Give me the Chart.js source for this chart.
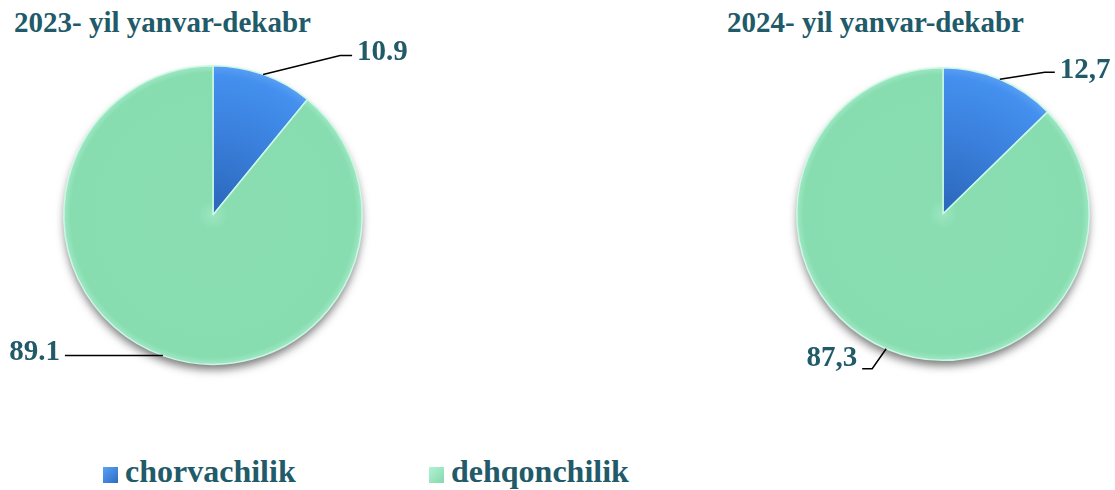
<!DOCTYPE html>
<html>
<head>
<meta charset="utf-8">
<script src="https://cdn.jsdelivr.net/npm/chart.js@4.4.1/dist/chart.umd.min.js"></script>
<style>
    body { margin: 0; background: #fff; width: 1115px; height: 490px; position: relative; overflow: hidden; }
    .title, .legend-item { position: absolute; font-family: 'Liberation Serif', 'Times New Roman', serif; font-weight: bold; color: #215a69; white-space: nowrap; line-height: 1; }
    .title { font-size: 29px; top: 8px; }
    .legend-item { font-size: 32px; top: 455px; }
    .legend-item i { display: inline-block; width: 15px; height: 16px; margin-right: 7px; vertical-align: -1px; }
    canvas { position: absolute; top: 0; }
</style>
</head>
<body>
<div class="title" style="left:14px">2023- yil yanvar-dekabr</div>
<div class="title" style="left:727px">2024- yil yanvar-dekabr</div>

<canvas id="pie2023" width="430" height="430" style="left:0"></canvas>
<canvas id="pie2024" width="415" height="430" style="left:700px"></canvas>

<div class="legend-item" style="left:103px"><i style="background:linear-gradient(135deg,#5aa2f6,#2d6cc2)"></i>chorvachilik</div>
<div class="legend-item" style="left:429px"><i style="background:linear-gradient(135deg,#b2f2d4,#84d9ad)"></i>dehqonchilik</div>

<script>
// Data
const categories = ['chorvachilik', 'dehqonchilik'];
const values2023 = [10.9, 89.1];
const values2024 = [12.7, 87.3];

const textColor = '#215a69';

// slice fill with a bit of depth
function sliceFill(ctx) {
    const chart = ctx.chart;
    const area = chart.chartArea;
    const blue = ctx.dataIndex === 0;
    if (!area) return blue ? '#3d86e4' : '#88ddb0';
    const cx = (area.left + area.right) / 2;
    const cy = (area.top + area.bottom) / 2;
    const r = Math.min(area.right - area.left, area.bottom - area.top) / 2;
    const g = chart.ctx.createRadialGradient(cx, cy, 0, cx, cy, r);
    if (blue) {
        g.addColorStop(0, '#2b66b9');
        g.addColorStop(0.55, '#3a80dc');
        g.addColorStop(0.93, '#4490ee');
        g.addColorStop(1, '#5aa0f5');
    } else {
        g.addColorStop(0, '#9ce6c0');
        g.addColorStop(0.1, '#89ddb1');
        g.addColorStop(0.95, '#88ddb0');
        g.addColorStop(1, '#a2e9c6');
    }
    return g;
}

// soft shadow under the pie
const shadowPlugin = {
    id: 'pieShadow',
    beforeDatasetsDraw(chart) {
        const arc = chart.getDatasetMeta(0).data[0];
        if (!arc) return;
        const { x, y, outerRadius } = arc.getProps(['x', 'y', 'outerRadius'], true);
        const ctx = chart.ctx;
        ctx.save();
        ctx.shadowColor = 'rgba(0,0,0,0.55)';
        ctx.shadowBlur = 10;
        ctx.shadowOffsetY = 6;
        ctx.fillStyle = '#ffffff';
        ctx.beginPath();
        ctx.arc(x, y, outerRadius - 1, 0, Math.PI * 2);
        ctx.fill();
        ctx.restore();
    }
};

// values with leader lines
const leaderPlugin = {
    id: 'leaders',
    afterDatasetsDraw(chart, args, opts) {
        const ctx = chart.ctx;
        const ds = chart.data.datasets[0];
        chart.getDatasetMeta(0).data.forEach((arc, i) => {
            const p = arc.getProps(['x', 'y', 'startAngle', 'endAngle', 'outerRadius'], true);
            const mid = (p.startAngle + p.endAngle) / 2;
            const ax = p.x + Math.cos(mid) * p.outerRadius;
            const ay = p.y + Math.sin(mid) * p.outerRadius;
            const l = opts.lines[i];
            const ex = ax + l.elbow[0], ey = ay + l.elbow[1];
            const tx = ex + l.tail;
            ctx.save();
            ctx.strokeStyle = '#000';
            ctx.lineWidth = 1.5;
            ctx.beginPath();
            ctx.moveTo(ax, ay);
            ctx.lineTo(ex, ey);
            ctx.lineTo(tx, ey);
            ctx.stroke();
            ctx.fillStyle = textColor;
            ctx.font = 'bold 29px "Liberation Serif", serif';
            ctx.textBaseline = 'middle';
            ctx.textAlign = l.tail >= 0 ? 'left' : 'right';
            const txt = ds.data[i].toFixed(1).replace('.', opts.sep);
            ctx.fillText(txt, tx + (l.tail >= 0 ? 5 : -5), ey + l.dyText);
            ctx.restore();
        });
    }
};

function makePie(id, values, padding, sep, lines) {
    return new Chart(document.getElementById(id), {
        type: 'pie',
        data: {
            labels: categories,
            datasets: [{
                data: values,
                backgroundColor: sliceFill,
                borderColor: 'rgba(205,250,232,0.95)',
                borderWidth: 1.5
            }]
        },
        options: {
            responsive: false,
            animation: false,
            layout: { padding: padding },
            plugins: {
                legend: { display: false },
                tooltip: { enabled: false },
                leaders: { sep: sep, lines: lines }
            }
        },
        plugins: [shadowPlugin, leaderPlugin]
    });
}

makePie('pie2023', values2023, { left: 63, right: 67, top: 65, bottom: 65 }, '.', [
    { elbow: [77, -19], tail: 12, dyText: -3 },
    { elbow: [0, 0], tail: -98, dyText: -3 }
]);

makePie('pie2024', values2024, { left: 96, right: 25, top: 67, bottom: 69 }, ',', [
    { elbow: [45, -7], tail: 10, dyText: -2 },
    { elbow: [-14, 20], tail: -10, dyText: -10 }
]);
</script>
</body>
</html>
